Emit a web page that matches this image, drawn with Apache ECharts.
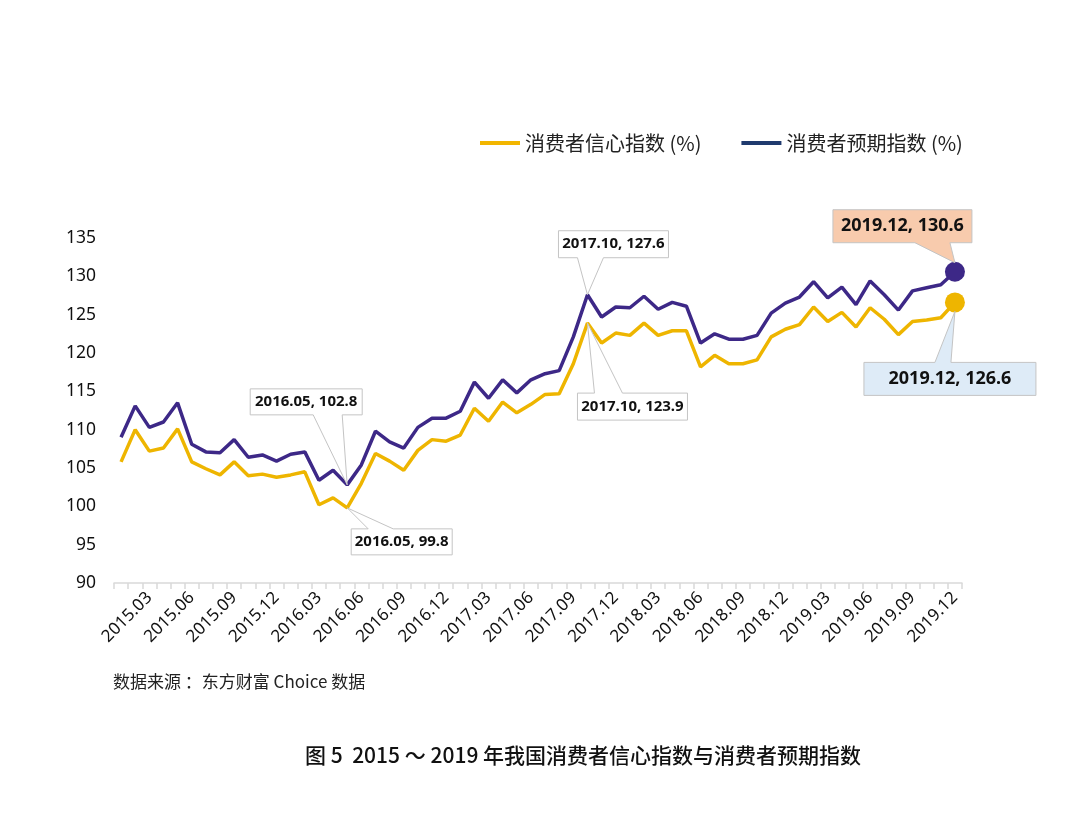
<!DOCTYPE html>
<html>
<head>
<meta charset="utf-8">
<script src="https://cdn.jsdelivr.net/npm/echarts@6/dist/echarts.min.js"></script>
<style>
html,body{margin:0;padding:0;background:#fff;}
#chart{width:1080px;height:827px;}
</style>
</head>
<body>
<div id="chart"></div>
<script>
const categories = [
 '2015.01','2015.02','2015.03','2015.04','2015.05','2015.06','2015.07','2015.08','2015.09','2015.10','2015.11','2015.12',
 '2016.01','2016.02','2016.03','2016.04','2016.05','2016.06','2016.07','2016.08','2016.09','2016.10','2016.11','2016.12',
 '2017.01','2017.02','2017.03','2017.04','2017.05','2017.06','2017.07','2017.08','2017.09','2017.10','2017.11','2017.12',
 '2018.01','2018.02','2018.03','2018.04','2018.05','2018.06','2018.07','2018.08','2018.09','2018.10','2018.11','2018.12',
 '2019.01','2019.02','2019.03','2019.04','2019.05','2019.06','2019.07','2019.08','2019.09','2019.10','2019.11','2019.12'
];
const confidence = [
 105.8,110.0,107.2,107.6,110.1,105.8,104.9,104.1,105.8,104.0,104.2,103.8,
 104.1,104.5,100.2,101.1,99.8,103.0,106.9,105.9,104.7,107.3,108.7,108.5,
 109.3,112.8,111.1,113.6,112.2,113.3,114.6,114.7,118.6,123.9,121.3,122.6,
 122.3,123.9,122.3,122.9,122.9,118.2,119.7,118.6,118.6,119.1,122.1,123.1,
 123.7,126.0,124.1,125.3,123.4,125.9,124.4,122.4,124.1,124.3,124.6,126.6
];
const expectation = [
 109.0,113.1,110.3,111.0,113.5,108.1,107.1,107.0,108.7,106.4,106.7,105.9,
 106.8,107.1,103.4,104.7,102.8,105.4,109.8,108.4,107.6,110.3,111.5,111.5,
 112.4,116.2,114.1,116.5,114.8,116.5,117.3,117.7,122.1,127.6,124.7,126.0,
 125.9,127.4,125.7,126.6,126.1,121.3,122.5,121.8,121.8,122.3,125.2,126.5,
 127.3,129.3,127.2,128.6,126.3,129.4,127.6,125.6,128.1,128.5,128.9,130.6
];
const seriesNames = ['消费者信心指数 (%)', '消费者预期指数 (%)'];
const yTicks = { min: 90, max: 135, interval: 5 };
const annotated = [
  { series: 1, index: 16 }, { series: 0, index: 16 },
  { series: 1, index: 33 }, { series: 0, index: 33 },
  { series: 1, index: 59 }, { series: 0, index: 59 }
];

const calloutStyles = [
  { dx: -97, dy: -96, w: 112, h: 26, side: 'bottom', a1: 63, a2: 92, fill: '#fff', font: 15 },
  { dx: 4, dy: 21, w: 101, h: 26, side: 'top', a1: 17, a2: 42, fill: '#fff', font: 15 },
  { dx: -29, dy: -64, w: 110, h: 27, side: 'bottom', a1: 19, a2: 45, fill: '#fff', font: 15 },
  { dx: -10, dy: 70, w: 110, h: 27, side: 'top', a1: 17, a2: 45, fill: '#fff', font: 15 },
  { dx: -122, dy: -62, w: 139, h: 33, side: 'bottom', a1: 82, a2: 117, fill: '#F8CBAD', font: 18, tipDy: -9 },
  { dx: -91, dy: 60, w: 172, h: 33, side: 'top', a1: 71, a2: 87, fill: '#DEEBF7', font: 18, tipDy: 9 }
];

const COL_Y = '#EEB500';
const COL_P = '#3D2887';
const seriesData = [confidence, expectation];

const chart = echarts.init(document.getElementById('chart'), null, { renderer: 'canvas' });
const lastIdx = categories.length - 1;

chart.setOption({
  backgroundColor: '#fff',
  animation: false,
  legend: {
    left: 475, top: 128,
    itemWidth: 40, itemHeight: 4, itemGap: 40, itemTextGap: 10,
    icon: 'rect',
    textStyle: { fontFamily: 'Noto Sans CJK SC', fontSize: 20, color: '#222' },
    data: [
      { name: seriesNames[0], itemStyle: { color: '#F2B600' } },
      { name: seriesNames[1], itemStyle: { color: '#1F3A6E' } }
    ]
  },
  grid: { left: 114, right: 118, top: 238, bottom: 244 },
  xAxis: {
    type: 'category',
    data: categories,
    boundaryGap: true,
    axisLine: { lineStyle: { color: '#d9d9d9', width: 1.5 } },
    axisTick: { show: true, interval: 0, length: 6, lineStyle: { color: '#d9d9d9', width: 1.5 } },
    axisLabel: {
      interval: (i) => i % 3 === 2,
      rotate: 45, margin: 12,
      fontFamily: 'Noto Sans', fontSize: 17, color: '#111'
    }
  },
  yAxis: {
    type: 'value',
    min: yTicks.min, max: yTicks.max, interval: yTicks.interval,
    axisLine: { show: false }, axisTick: { show: false }, splitLine: { show: false },
    axisLabel: { margin: 18, fontFamily: 'Noto Sans', fontSize: 17.5, color: '#111' }
  },
  series: [
    {
      name: seriesNames[0], type: 'line', data: confidence,
      lineStyle: { color: COL_Y, width: 3.5 }, itemStyle: { color: COL_Y },
      symbol: 'circle', showSymbol: true, showAllSymbol: true,
      symbolSize: (v, p) => p.dataIndex === lastIdx ? 20 : 0,
      z: 2
    },
    {
      name: seriesNames[1], type: 'line', data: expectation,
      lineStyle: { color: COL_P, width: 3.5 }, itemStyle: { color: COL_P },
      symbol: 'circle', showSymbol: true, showAllSymbol: true,
      symbolSize: (v, p) => p.dataIndex === lastIdx ? 20 : 0,
      z: 3
    }
  ]
});

const graphics = [];
annotated.forEach((a, k) => {
  const s = calloutStyles[k];
  const val = seriesData[a.series][a.index];
  const pt = chart.convertToPixel({ seriesIndex: a.series }, [a.index, val]);
  const px = pt[0], py = pt[1];
  const bx = px + s.dx, by = py + s.dy, w = s.w, h = s.h;
  const tip = [px, py + (s.tipDy || 0)];
  let pts;
  if (s.side === 'bottom') {
    pts = [[bx, by], [bx + w, by], [bx + w, by + h], [bx + s.a2, by + h], tip, [bx + s.a1, by + h], [bx, by + h]];
  } else {
    pts = [[bx, by], [bx + s.a1, by], tip, [bx + s.a2, by], [bx + w, by], [bx + w, by + h], [bx, by + h]];
  }
  graphics.push({
    type: 'polygon', z: 100,
    shape: { points: pts },
    style: { fill: s.fill, stroke: '#c4c4c4', lineWidth: 1 }
  });
  graphics.push({
    type: 'text', z: 101,
    x: bx + w / 2, y: by + h / 2,
    style: {
      text: categories[a.index] + ', ' + val.toFixed(1),
      fill: '#111', font: 'bold ' + s.font + 'px "Noto Sans"',
      textAlign: 'center', textVerticalAlign: 'middle'
    }
  });
});
graphics.push({
  type: 'text', left: 113, top: 673,
  style: { text: '数据来源 ：东方财富 Choice 数据', fill: '#222', font: '17px "Noto Sans CJK SC"' }
});
graphics.push({
  type: 'text', left: 305, top: 745,
  style: { text: '图 5  2015 ～ 2019 年我国消费者信心指数与消费者预期指数', fill: '#111', font: '500 21px "Noto Sans CJK SC"' }
});
chart.setOption({ graphic: graphics });
</script>
</body>
</html>
